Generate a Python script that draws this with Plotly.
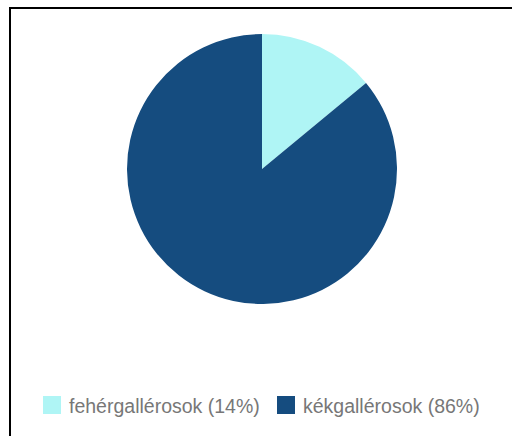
import plotly.graph_objects as go

# Workforce split
categories = ["fehérgallérosok", "kékgallérosok"]
values = [14, 86]
colors = ["#aff5f5", "#154c7f"]

W, H = 512, 436
total = sum(values)
legend_labels = [f"{c} ({v / total * 100:.0f}%)" for c, v in zip(categories, values)]

# pie placement in pixels
cx, cy, r = 262, 169, 135

fig = go.Figure(
    go.Pie(
        labels=categories,
        values=values,
        sort=False,
        direction="clockwise",
        rotation=0,
        marker=dict(colors=colors, line=dict(width=0)),
        textinfo="none",
        hoverinfo="label+percent",
        showlegend=False,
        domain=dict(
            x=[(cx - r) / W, (cx + r) / W],
            y=[(H - cy - r) / H, (H - cy + r) / H],
        ),
    )
)

def px(x):
    return x / W

def py(y):
    return 1 - y / H

shapes = [
    # frame (top and left edges)
    dict(type="line", xref="paper", yref="paper", x0=px(9), x1=px(W), y0=py(8), y1=py(8),
         line=dict(color="black", width=2)),
    dict(type="line", xref="paper", yref="paper", x0=px(10), x1=px(10), y0=py(7), y1=py(H),
         line=dict(color="black", width=2)),
]
annotations = []

# custom legend at the bottom
legend_x = [43, 277]
sq = 18
ly = 396
for x0, col, txt in zip(legend_x, colors, legend_labels):
    shapes.append(dict(type="rect", xref="paper", yref="paper",
                       x0=px(x0), x1=px(x0 + sq), y0=py(ly), y1=py(ly + sq),
                       fillcolor=col, line=dict(width=0)))
    annotations.append(dict(xref="paper", yref="paper", x=px(x0 + sq + 6), y=py(ly + sq / 2 + 0.5),
                            xanchor="left", yanchor="middle", showarrow=False,
                            text=txt, font=dict(family="Liberation Sans, Arial, sans-serif",
                                                size=19.5, color="#777777")))

fig.update_layout(
    width=W,
    height=H,
    margin=dict(l=0, r=0, t=0, b=0),
    paper_bgcolor="white",
    plot_bgcolor="white",
    shapes=shapes,
    annotations=annotations,
)

fig.write_html("out.html", config={"displayModeBar": False})
